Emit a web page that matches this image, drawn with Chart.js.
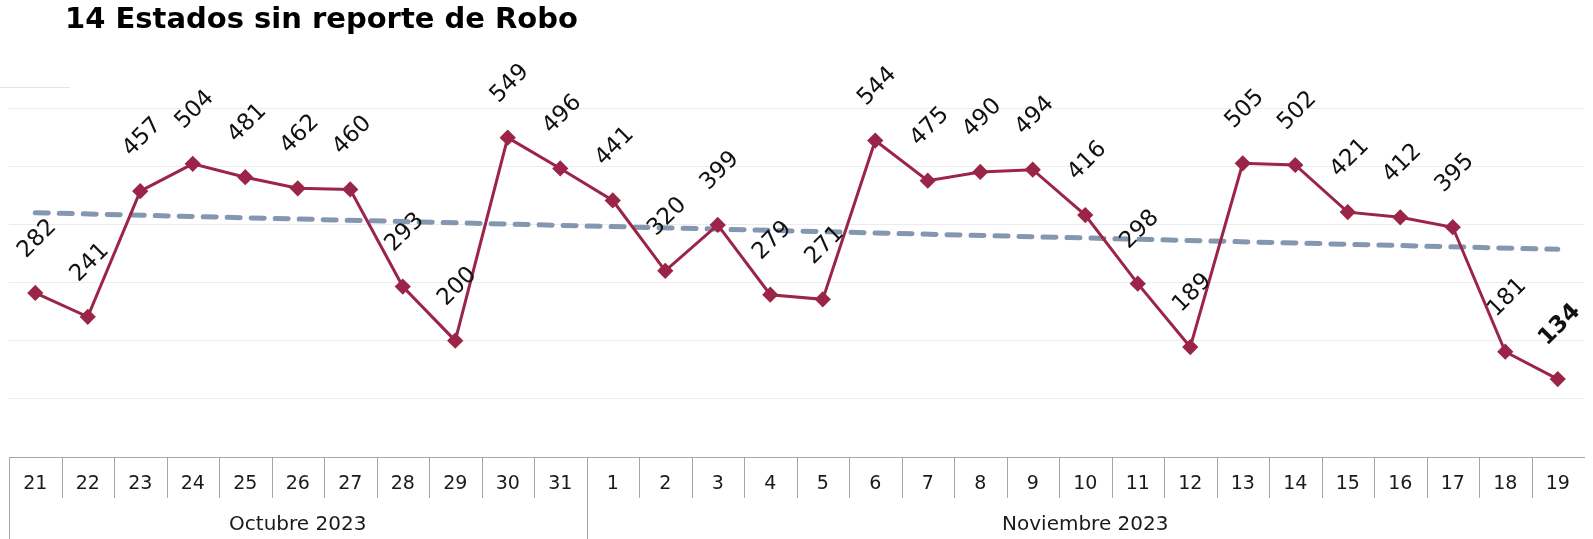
<!DOCTYPE html>
<html lang="es">
<head>
<meta charset="utf-8">
<title>14 Estados sin reporte de Robo</title>
<script src="https://cdn.jsdelivr.net/npm/chart.js@4.4.1/dist/chart.umd.min.js"></script>
<style>
    html, body { margin: 0; padding: 0; background: #fff; }
    #wrap { position: relative; width: 1593px; height: 539px; overflow: hidden; }
    #title {
        position: absolute; left: 65px; top: 1px;
        font-family: "DejaVu Sans", sans-serif; font-weight: 700; font-size: 29px;
        color: #000; white-space: nowrap;
    }
    #stub { position: absolute; left: 0; top: 87px; width: 70px; border-top: 1px solid #e3e3e3; }
    canvas { position: absolute; left: 0; top: 0; }
</style>
</head>
<body>
<div id="wrap">
    <canvas id="robo" width="1593" height="539"></canvas>
    <div id="title">14 Estados sin reporte de Robo</div>
    <div id="stub"></div>
</div>
<script>
// Dias del periodo (21 oct - 19 nov 2023)
const dias = ['21', '22', '23', '24', '25', '26', '27', '28', '29', '30', '31',
    '1', '2', '3', '4', '5', '6', '7', '8', '9', '10', '11', '12', '13', '14', '15', '16', '17', '18', '19'];
const meses = ['Octubre 2023', 'Noviembre 2023'];
const diasPorMes = [11, 19];

const estadosSinReporte = [282, 241, 457, 504, 481, 462, 460, 293, 200, 549, 496,
    441, 320, 399, 279, 271, 544, 475, 490, 494, 416, 298, 189, 505, 502, 421, 412, 395, 181, 134];

// Linea de tendencia (extremos)
const tendencia = [{ x: '21', y: 420 }, { x: '19', y: 357 }];

const GRAPE = '#9b2449';
const AXIS_GRAY = '#a6a6a6';
const FONT = '"DejaVu Sans", sans-serif';

const axisExtras = {
    id: 'axisExtras',
    afterDraw(chart) {
        const ctx = chart.ctx;
        const x = chart.scales.x;
        const top = chart.chartArea.bottom;
        const half = (x.getPixelForValue(1) - x.getPixelForValue(0)) / 2;

        ctx.save();
        ctx.strokeStyle = AXIS_GRAY;
        ctx.lineWidth = 1;

        // separadores de cada dia
        for (let i = 0; i < dias.length; i++) {
            const px = Math.round(x.getPixelForValue(i) - half) + 0.5;
            ctx.beginPath();
            ctx.moveTo(px, top);
            ctx.lineTo(px, top + 41);
            ctx.stroke();
        }

        // separadores y nombres de mes
        let start = 0;
        ctx.fillStyle = '#1a1a1a';
        ctx.font = '20px ' + FONT;
        ctx.textAlign = 'center';
        ctx.textBaseline = 'middle';
        meses.forEach((mes, m) => {
            const end = start + diasPorMes[m] - 1;
            const left = Math.round(x.getPixelForValue(start) - half) + 0.5;
            ctx.beginPath();
            ctx.moveTo(left, top);
            ctx.lineTo(left, chart.height);
            ctx.stroke();
            const cx = (x.getPixelForValue(start) + x.getPixelForValue(end)) / 2;
            ctx.fillText(mes, cx, top + 68);
            start = end + 1;
        });
        ctx.restore();
    },
    afterDatasetsDraw(chart) {
        const ctx = chart.ctx;
        const meta = chart.getDatasetMeta(0);
        ctx.save();
        ctx.textAlign = 'center';
        ctx.textBaseline = 'middle';
        ctx.fillStyle = '#111';
        meta.data.forEach((pt, i) => {
            const last = i === meta.data.length - 1;
            ctx.font = (last ? '700 ' : '400 ') + '23px ' + FONT;
            ctx.save();
            ctx.translate(pt.x + 2, pt.y - 54);
            ctx.rotate(-Math.PI / 4);
            ctx.fillText(String(estadosSinReporte[i]), 0, 0);
            ctx.restore();
        });
        ctx.restore();
    }
};

const chart = new Chart(document.getElementById('robo'), {
    type: 'line',
    data: {
        labels: dias,
        datasets: [
            {
                label: 'Estados sin reporte',
                data: estadosSinReporte,
                borderColor: GRAPE,
                backgroundColor: GRAPE,
                borderWidth: 3,
                pointStyle: 'rectRot',
                pointRadius: 6,
                pointHoverRadius: 6,
                tension: 0,
                order: 1
            },
            {
                label: 'Tendencia',
                data: tendencia,
                borderColor: '#8497b0',
                borderWidth: 5,
                borderDash: [13, 11],
                borderCapStyle: 'round',
                pointRadius: 0,
                order: 2
            }
        ]
    },
    options: {
        responsive: false,
        animation: false,
        layout: { padding: { top: 108, left: 9, right: 9, bottom: 0 } },
        plugins: {
            legend: { display: false },
            tooltip: { enabled: false }
        },
        scales: {
            x: {
                type: 'category',
                offset: true,
                grid: { display: false, drawTicks: false },
                border: { color: AXIS_GRAY, width: 1 },
                ticks: {
                    color: '#1a1a1a',
                    font: { family: FONT, size: 19 },
                    padding: 16,
                    maxRotation: 0,
                    autoSkip: false
                },
                afterFit: s => { s.height = 82; }
            },
            y: {
                min: 0,
                max: 600,
                ticks: { display: false, stepSize: 100 },
                grid: { color: '#ececec', lineWidth: 1, drawTicks: false },
                border: { display: false },
                afterFit: s => { s.width = 0; }
            }
        }
    },
    plugins: [axisExtras]
});
</script>
</body>
</html>
